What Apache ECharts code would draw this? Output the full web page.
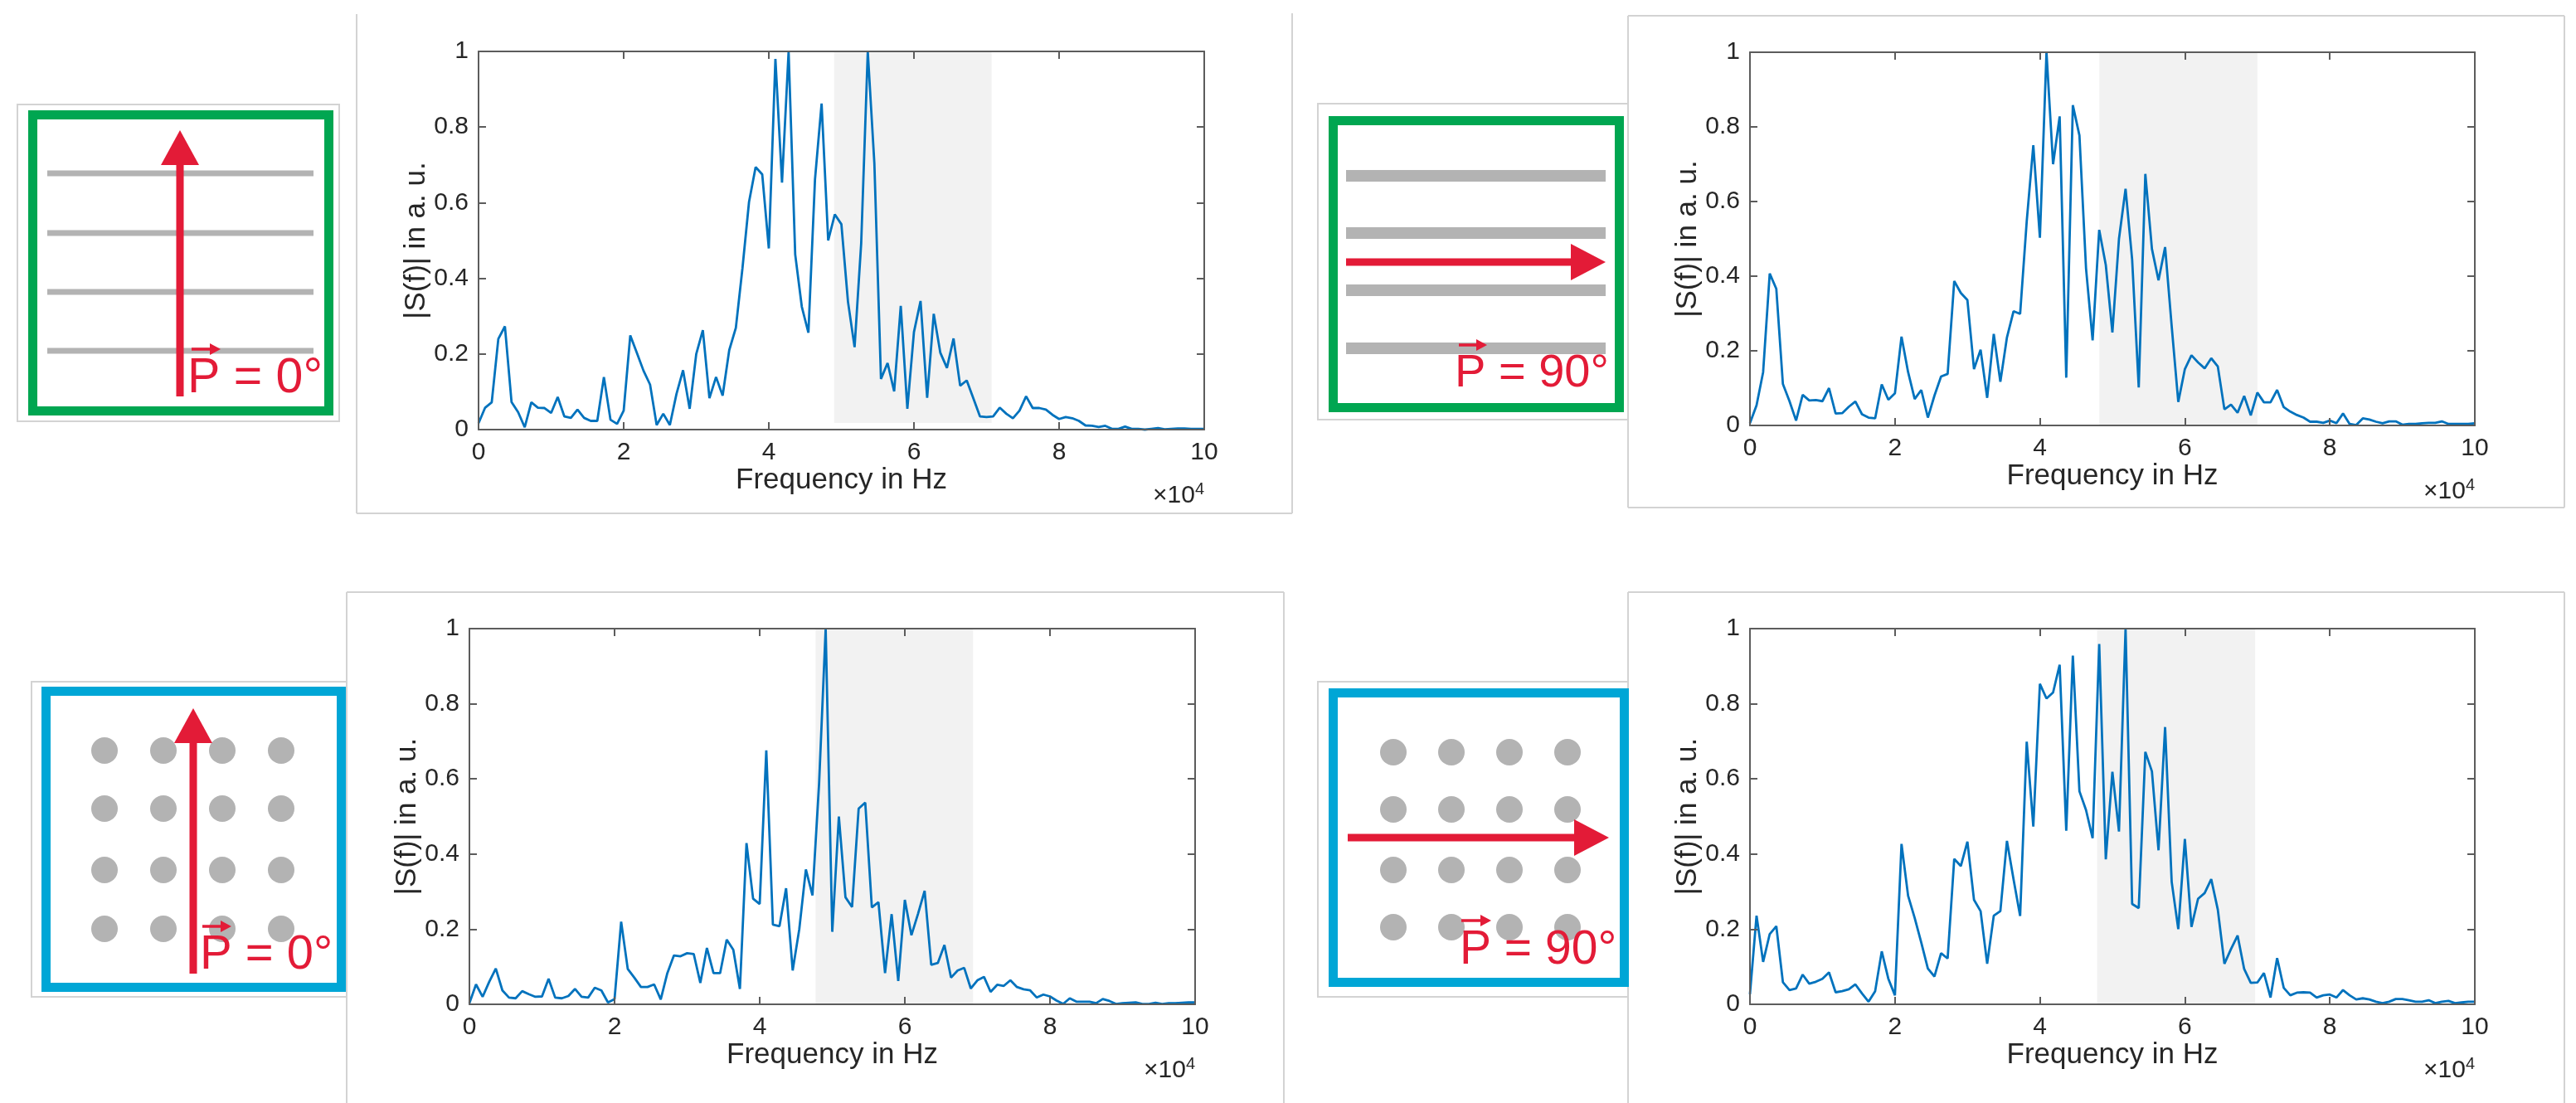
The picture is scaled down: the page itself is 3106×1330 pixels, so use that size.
<!DOCTYPE html>
<html>
<head>
<meta charset="utf-8">
<script src="https://cdn.jsdelivr.net/npm/echarts@6/dist/echarts.min.js"></script>
<style>
  html, body { margin: 0; padding: 0; background: #fff; }
  #chart { width: 3106px; height: 1330px; }
</style>
</head>
<body>
<div id="chart"></div>
<script>
// frequency grid of the spectra (Hz)
const freqHz = [
  0, 909, 1818, 2727, 3636, 4545, 5455, 6364, 7273, 8182,
  9091, 10000, 10909, 11818, 12727, 13636, 14545, 15455, 16364, 17273,
  18182, 19091, 20000, 20909, 21818, 22727, 23636, 24545, 25455, 26364,
  27273, 28182, 29091, 30000, 30909, 31818, 32727, 33636, 34545, 35455,
  36364, 37273, 38182, 39091, 40000, 40909, 41818, 42727, 43636, 44545,
  45455, 46364, 47273, 48182, 49091, 50000, 50909, 51818, 52727, 53636,
  54545, 55455, 56364, 57273, 58182, 59091, 60000, 60909, 61818, 62727,
  63636, 64545, 65455, 66364, 67273, 68182, 69091, 70000, 70909, 71818,
  72727, 73636, 74545, 75455, 76364, 77273, 78182, 79091, 80000, 80909,
  81818, 82727, 83636, 84545, 85455, 86364, 87273, 88182, 89091, 90000,
  90909, 91818, 92727, 93636, 94545, 95455, 96364, 97273, 98182, 99091,
  100000
];

// |S(f)| in a. u. — lines, P = 0°
const specLines0 = [
  0.017, 0.058, 0.072, 0.24, 0.273, 0.073, 0.046, 0.006, 0.072, 0.058,
  0.057, 0.044, 0.086, 0.035, 0.031, 0.053, 0.031, 0.023, 0.023, 0.139,
  0.026, 0.015, 0.05, 0.249, 0.203, 0.156, 0.119, 0.012, 0.042, 0.012,
  0.094, 0.157, 0.055, 0.2, 0.263, 0.083, 0.139, 0.09, 0.21, 0.269,
  0.426, 0.602, 0.694, 0.675, 0.479, 0.98, 0.653, 1.0, 0.463, 0.325,
  0.256, 0.662, 0.862, 0.5, 0.569, 0.543, 0.338, 0.218, 0.492, 1.0,
  0.704, 0.134, 0.176, 0.101, 0.327, 0.055, 0.258, 0.34, 0.084, 0.306,
  0.203, 0.163, 0.241, 0.116, 0.13, 0.083, 0.035, 0.033, 0.035, 0.058,
  0.042, 0.03, 0.05, 0.088, 0.057, 0.057, 0.053, 0.039, 0.028, 0.033,
  0.03, 0.023, 0.011, 0.01, 0.007, 0.01, 0.002, 0.002, 0.008, 0.002,
  0.002, 0, 0.002, 0.004, 0.001, 0.002, 0.003, 0.003, 0.002, 0.002, 0.002
];
// lines, P = 90°
const specLines90 = [
  0.006, 0.054, 0.143, 0.407, 0.366, 0.111, 0.065, 0.013, 0.082, 0.067,
  0.068, 0.065, 0.1, 0.032, 0.033, 0.05, 0.064, 0.03, 0.021, 0.019,
  0.11, 0.069, 0.086, 0.238, 0.143, 0.071, 0.095, 0.021, 0.08, 0.131,
  0.138, 0.387, 0.355, 0.336, 0.151, 0.203, 0.074, 0.245, 0.117, 0.236,
  0.306, 0.299, 0.547, 0.751, 0.503, 1.0, 0.7, 0.828, 0.128, 0.858,
  0.777, 0.421, 0.228, 0.524, 0.43, 0.249, 0.5, 0.634, 0.444, 0.102,
  0.674, 0.473, 0.389, 0.478, 0.266, 0.063, 0.151, 0.188, 0.169, 0.153,
  0.18, 0.158, 0.043, 0.056, 0.034, 0.079, 0.027, 0.088, 0.062, 0.062,
  0.095, 0.049, 0.037, 0.028, 0.021, 0.01, 0.01, 0.007, 0.013, 0.006,
  0.032, 0.004, 0.001, 0.019, 0.016, 0.01, 0.006, 0.011, 0.011, 0.002,
  0.004, 0.004, 0.006, 0.007, 0.007, 0.011, 0.004, 0.004, 0.004, 0.004, 0.006
];
// dots, P = 0°
const specDots0 = [
  0.003, 0.053, 0.02, 0.06, 0.095, 0.037, 0.018, 0.016, 0.035, 0.027,
  0.02, 0.021, 0.068, 0.018, 0.016, 0.022, 0.041, 0.02, 0.018, 0.044,
  0.037, 0.005, 0.014, 0.22, 0.094, 0.071, 0.046, 0.046, 0.053, 0.013,
  0.083, 0.13, 0.128, 0.136, 0.134, 0.057, 0.15, 0.083, 0.083, 0.172,
  0.145, 0.041, 0.429, 0.281, 0.267, 0.676, 0.212, 0.208, 0.309, 0.09,
  0.2, 0.359, 0.29, 0.587, 1.0, 0.193, 0.5, 0.285, 0.259, 0.521,
  0.537, 0.258, 0.272, 0.083, 0.24, 0.062, 0.278, 0.184, 0.241, 0.302,
  0.105, 0.11, 0.158, 0.071, 0.09, 0.097, 0.042, 0.064, 0.073, 0.033,
  0.052, 0.049, 0.064, 0.046, 0.04, 0.037, 0.018, 0.026, 0.021, 0.01,
  0.001, 0.016, 0.007, 0.007, 0.007, 0.003, 0.014, 0.009, 0.001, 0.003,
  0.004, 0.005, 0.001, 0.001, 0.004, 0.001, 0.003, 0.003, 0.004, 0.005, 0.005
];
// dots, P = 90°
const specDots90 = [
  0.027, 0.236, 0.113, 0.187, 0.208, 0.059, 0.038, 0.042, 0.079, 0.055,
  0.06, 0.068, 0.085, 0.032, 0.035, 0.04, 0.053, 0.029, 0.007, 0.035,
  0.141, 0.068, 0.024, 0.427, 0.289, 0.23, 0.164, 0.095, 0.074, 0.136,
  0.122, 0.387, 0.368, 0.433, 0.278, 0.248, 0.108, 0.236, 0.248, 0.435,
  0.333, 0.235, 0.699, 0.473, 0.853, 0.814, 0.83, 0.904, 0.462, 0.928,
  0.567, 0.517, 0.442, 0.959, 0.386, 0.619, 0.46, 1.0, 0.267, 0.256,
  0.672, 0.62, 0.41, 0.738, 0.326, 0.2, 0.44, 0.206, 0.281, 0.296,
  0.333, 0.252, 0.108, 0.147, 0.183, 0.094, 0.057, 0.058, 0.083, 0.018,
  0.123, 0.044, 0.024, 0.031, 0.032, 0.031, 0.018, 0.024, 0.026, 0.018,
  0.038, 0.024, 0.013, 0.016, 0.013, 0.007, 0.003, 0.007, 0.014, 0.014,
  0.011, 0.007, 0.007, 0.011, 0.003, 0.007, 0.009, 0.003, 0.005, 0.007, 0.007
];

// grey frequency bands [from Hz, to Hz] and their vertical extent
const bandLines0 = [49000, 70700], bandLines0Y = [0.0175, 1.013];
const bandLines90 = [48200, 70000], bandLines90Y = [-0.015, 1.0];
const bandDots0 = [47700, 69400], bandDots0Y = [0, 1];
const bandDots90 = [47900, 69700], bandDots90Y = [0, 1];

const polLabels = ['P = 0°', 'P = 90°', 'P = 0°', 'P = 90°'];
const xName = 'Frequency in Hz';
const yName = '|S(f)| in a. u.';

const FONT = '"Liberation Sans", Arial, Helvetica, sans-serif';
const INK = '#262626';
const AXIS = '#5c5c5c';
const RED = '#e31b37';
const GREEN = '#00a651';
const BLUE = '#00a6d6';
const MARK = '#b3b3b3';
const FRAME = '#d3d3d3';

const panels = [
  { grid: { left: 577, top: 62, width: 875, height: 456 }, values: specLines0, band: bandLines0, bandY: bandLines0Y },
  { grid: { left: 2110, top: 63, width: 874, height: 450 }, values: specLines90, band: bandLines90, bandY: bandLines90Y },
  { grid: { left: 566, top: 758, width: 875, height: 453 }, values: specDots0, band: bandDots0, bandY: bandDots0Y },
  { grid: { left: 2110, top: 758, width: 874, height: 453 }, values: specDots90, band: bandDots90, bandY: bandDots90Y }
];

const grids = [], xAxes = [], yAxes = [], series = [];
panels.forEach((p, i) => {
  grids.push(Object.assign({ containLabel: false }, p.grid));
  const common = {
    gridIndex: i, type: 'value', z: 10,
    axisLine: { show: true, onZero: false, lineStyle: { color: AXIS, width: 2 } },
    axisTick: { show: true, inside: true, length: 9, lineStyle: { color: AXIS, width: 2 } },
    splitLine: { show: false }
  };
  xAxes.push(Object.assign({}, common, {
    position: 'bottom', min: 0, max: 100000, interval: 20000,
    axisLabel: { margin: 13, fontSize: 30, fontFamily: FONT, color: INK,
      showMinLabel: true, showMaxLabel: true, formatter: v => String(v / 10000) },
    name: xName, nameLocation: 'middle', nameGap: 31,
    nameTextStyle: { fontSize: 35, fontFamily: FONT, color: INK }
  }));
  xAxes.push(Object.assign({}, common, {
    position: 'top', min: 0, max: 100000, interval: 20000, axisLabel: { show: false }
  }));
  yAxes.push(Object.assign({}, common, {
    position: 'left', min: 0, max: 1, interval: 0.2,
    axisLabel: { margin: 12, fontSize: 30, fontFamily: FONT, color: INK,
      showMinLabel: true, showMaxLabel: true },
    name: yName, nameLocation: 'middle', nameGap: 57, nameRotate: 90,
    nameTextStyle: { fontSize: 35, fontFamily: FONT, color: INK }
  }));
  yAxes.push(Object.assign({}, common, {
    position: 'right', min: 0, max: 1, interval: 0.2, axisLabel: { show: false }
  }));
  series.push({
    type: 'line', xAxisIndex: 2 * i, yAxisIndex: 2 * i,
    data: freqHz.map((f, k) => [f, p.values[k]]),
    showSymbol: false, clip: false, z: 3,
    lineStyle: { color: '#0072bd', width: 2.8 },
    markArea: {
      silent: true,
      itemStyle: { color: '#f2f2f2' },
      data: [[{ xAxis: p.band[0], yAxis: p.bandY[0] }, { xAxis: p.band[1], yAxis: p.bandY[1] }]]
    }
  });
});

// ---- decorative frames and sample sketches ----
const g = [];
const seg = (x1, y1, x2, y2, color, w) =>
  g.push({ type: 'line', shape: { x1, y1, x2, y2 }, style: { stroke: color, lineWidth: w } });
const box = (x, y, width, height, color, w) =>
  g.push({ type: 'rect', shape: { x, y, width, height }, style: { fill: 'none', stroke: color, lineWidth: w } });

// figure frames
seg(430, 17, 430, 619, FRAME, 2); seg(430, 619, 1558, 619, FRAME, 2); seg(1558, 16, 1558, 619, FRAME, 2);
seg(1963, 19, 3092, 19, FRAME, 2); seg(1963, 19, 1963, 612, FRAME, 2);
seg(1963, 612, 3092, 612, FRAME, 2); seg(3092, 19, 3092, 612, FRAME, 2);
seg(418, 714, 1548, 714, FRAME, 2); seg(418, 714, 418, 1330, FRAME, 2); seg(1548, 714, 1548, 1330, FRAME, 2);
seg(1963, 714, 3092, 714, FRAME, 2); seg(1963, 714, 1963, 1330, FRAME, 2); seg(3092, 714, 3092, 1330, FRAME, 2);

// sketch boxes
box(21, 126, 388, 382, FRAME, 2);
box(1589, 125, 374, 381, FRAME, 2);
box(38, 822, 380, 380, FRAME, 2);
box(1589, 822, 374, 380, FRAME, 2);

// grey stripes
[209, 281, 352, 423].forEach(y =>
  g.push({ type: 'rect', shape: { x: 57, y: y - 3.5, width: 321, height: 7 }, style: { fill: MARK } }));
[212, 281, 350, 420].forEach(y =>
  g.push({ type: 'rect', shape: { x: 1623, y: y - 7, width: 313, height: 14 }, style: { fill: MARK } }));
// grey dots
[126, 197, 268, 339].forEach(x => [905, 975, 1049, 1120].forEach(y =>
  g.push({ type: 'circle', shape: { cx: x, cy: y, r: 16 }, style: { fill: MARK } })));
[1680, 1750, 1820, 1890].forEach(x => [907, 976, 1049, 1118].forEach(y =>
  g.push({ type: 'circle', shape: { cx: x, cy: y, r: 16 }, style: { fill: MARK } })));

// coloured outlines
box(39.5, 138.5, 357, 357, GREEN, 11);
box(1607.5, 145.5, 345, 346, GREEN, 11);
box(55.5, 833.5, 356, 357, BLUE, 11);
box(1607.5, 835.5, 351, 349, BLUE, 11);

// red polarisation arrows
const upArrow = (x, yBottom, yTip) => {
  seg(x, yBottom, x, yTip + 40, RED, 9);
  g.push({ type: 'polygon', shape: { points: [[x, yTip], [x - 23, yTip + 42], [x + 23, yTip + 42]] }, style: { fill: RED } });
};
const rightArrow = (xLeft, xTip, y) => {
  seg(xLeft, y, xTip - 40, y, RED, 9);
  g.push({ type: 'polygon', shape: { points: [[xTip, y], [xTip - 42, y - 22], [xTip - 42, y + 22]] }, style: { fill: RED } });
};
upArrow(217, 478, 157);
rightArrow(1623, 1936, 316);
upArrow(233, 1174, 854);
rightArrow(1625, 1940, 1010);

// "P = ..." labels with vector arrow over P
const polText = (txt, x, baseline, size, ax1, ax2, ay) => {
  g.push({ type: 'text', z: 5, style: { text: txt, x: x, y: baseline - 0.36 * size, fill: RED,
    fontSize: size, fontFamily: FONT, align: 'left', verticalAlign: 'middle' } });
  seg(ax1, ay, ax2 - 9, ay, RED, 3.5);
  g.push({ type: 'polygon', z: 5, shape: { points: [[ax2, ay], [ax2 - 13, ay - 7], [ax2 - 13, ay + 7]] }, style: { fill: RED } });
};
polText(polLabels[0], 226, 478, 59, 231, 266, 421);
polText(polLabels[1], 1754, 471, 56, 1759, 1793, 416);
polText(polLabels[2], 241, 1173, 58, 244, 279, 1117);
polText(polLabels[3], 1760, 1167, 57, 1762, 1798, 1110);

// x10^4 exponent labels
panels.forEach(p => {
  g.push({ type: 'text', style: {
    text: '{a|×10}{b|4}', x: p.grid.left + p.grid.width, y: p.grid.top + p.grid.height + 80,
    align: 'right', verticalAlign: 'middle', fill: INK,
    rich: { a: { fontSize: 30, lineHeight: 36, fontFamily: FONT, fill: INK },
            b: { fontSize: 20, lineHeight: 20, verticalAlign: 'top', fontFamily: FONT, fill: INK } }
  } });
});

const chart = echarts.init(document.getElementById('chart'));
chart.setOption({
  animation: false,
  backgroundColor: '#ffffff',
  grid: grids,
  xAxis: xAxes,
  yAxis: yAxes,
  series: series,
  graphic: { elements: g }
});
</script>
</body>
</html>
